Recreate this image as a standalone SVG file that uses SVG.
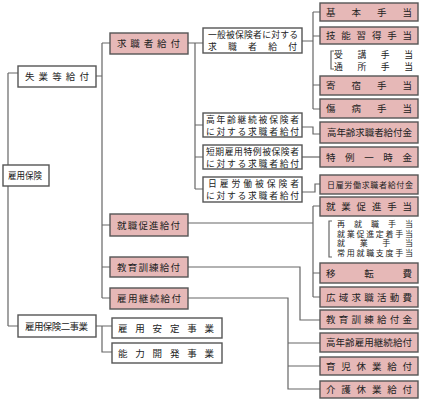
<svg xmlns="http://www.w3.org/2000/svg" width="421" height="405" viewBox="0 0 421 405">
<style>
.b{fill:#fff;stroke:#555;stroke-width:1.4}
.p{fill:#e6b8b7;stroke:#555;stroke-width:1.4}
.t{font-family:"Noto Sans CJK JP","Noto Sans CJK SC",sans-serif;font-size:9.5px;fill:#222}
.s{font-size:8px}
.m{font-size:8.8px}
.c{fill:none;stroke:#666;stroke-width:1.2}
</style>
<rect width="421" height="405" fill="#fff"/>
<g id="connectors" class="c">
<path d="M8,73 V326 M8,73 H18 M8,326 H18"/>
<path d="M96,76 H102 M102,43 V298 M102,43 H110 M102,225 H110 M102,267 H110 M102,298 H110"/>
<path d="M96,326 H112 M102,326 V352 H112"/>
<path d="M188,43 H203 M195,43 V189 M195,125 H203 M195,157 H203 M195,189 H203"/>
<path d="M302,41 H313 M313,12 V109 M313,12 H320 M313,36 H320 M313,85 H320 M313,109 H320"/>
<path d="M302,127 H313 V134 H320"/>
<path d="M302,157 H320"/>
<path d="M302,192 H315 V184 H320"/>
<path d="M188,223 H313 M313,206 V297 M313,206 H320 M313,273 H320 M313,297 H320"/>
<path d="M188,267 H300 V320 H320"/>
<path d="M188,298 H288 V389 H320 M288,343 H320 M288,366 H320"/>
<path d="M334,51 H331 V69 H334"/>
<path d="M332,221 H329 V257 H332"/>
</g>
<g id="koyohoken"><rect class="b" x="3" y="165" width="46" height="21"/><text class="t" x="8" y="179" textLength="34" lengthAdjust="spacingAndGlyphs">雇用保険</text></g>
<g id="shitsugyo"><rect class="b" x="18" y="66" width="78" height="21"/><text class="t" x="25" y="80" textLength="64" lengthAdjust="spacing">失業等給付</text></g>
<g id="nijigyo"><rect class="b" x="18" y="315" width="78" height="22"/><text class="t" x="25" y="329.5" textLength="63" lengthAdjust="spacing">雇用保険二事業</text></g>
<g id="kyushokusha"><rect class="p" x="110" y="33" width="78" height="21"/><text class="t" x="117" y="47" textLength="63" lengthAdjust="spacing">求職者給付</text></g>
<g id="shushoku"><rect class="p" x="110" y="214" width="78" height="22"/><text class="t" x="117" y="228.5" textLength="63" lengthAdjust="spacing">就職促進給付</text></g>
<g id="kyoiku"><rect class="p" x="110" y="257" width="78" height="20"/><text class="t" x="117" y="270.5" textLength="63" lengthAdjust="spacing">教育訓練給付</text></g>
<g id="keizoku"><rect class="p" x="110" y="288" width="78" height="21"/><text class="t" x="117" y="302" textLength="64" lengthAdjust="spacing">雇用継続給付</text></g>
<g id="antei"><rect class="b" x="112" y="318" width="110" height="20"/><text class="t" x="118" y="331.5" textLength="96" lengthAdjust="spacing">雇用安定事業</text></g>
<g id="noryoku"><rect class="b" x="112" y="343" width="110" height="20"/><text class="t" x="118" y="356.5" textLength="96" lengthAdjust="spacing">能力開発事業</text></g>
<g id="ippan"><rect class="b" x="203" y="28" width="99" height="25"/><text class="t m" x="208" y="38.2" textLength="90" lengthAdjust="spacing">一般被保険者に対する</text><text class="t m" x="208" y="50" textLength="89" lengthAdjust="spacing">求職者給付</text></g>
<g id="koreikeizoku"><rect class="b" x="203" y="113" width="99" height="24"/><text class="t m" x="206" y="122.8" textLength="93" lengthAdjust="spacing">高年齢継続被保険者</text><text class="t m" x="206" y="134.5" textLength="93" lengthAdjust="spacing">に対する求職者給付</text></g>
<g id="tanki"><rect class="b" x="203" y="145" width="99" height="24"/><text class="t m" x="206" y="154.8" textLength="93" lengthAdjust="spacing">短期雇用特例被保険者</text><text class="t m" x="206" y="166.5" textLength="93" lengthAdjust="spacing">に対する求職者給付</text></g>
<g id="hiyatoi"><rect class="b" x="203" y="177" width="99" height="25"/><text class="t m" x="208" y="187.3" textLength="91" lengthAdjust="spacing">日雇労働被保険者</text><text class="t m" x="206" y="199" textLength="93" lengthAdjust="spacing">に対する求職者給付</text></g>
<g id="kihon"><rect class="p" x="320" y="3" width="98" height="18"/><text class="t" x="326" y="15.5" textLength="86" lengthAdjust="spacing">基本手当</text></g>
<g id="gino"><rect class="p" x="320" y="27" width="98" height="17"/><text class="t" x="326" y="39" textLength="86" lengthAdjust="spacing">技能習得手当</text></g>
<g id="juko"><text class="t m" x="334" y="57.5" textLength="79" lengthAdjust="spacing">受講手当</text><text class="t m" x="334" y="69.5" textLength="79" lengthAdjust="spacing">通所手当</text></g>
<g id="kishuku"><rect class="p" x="320" y="76" width="98" height="19"/><text class="t" x="326" y="89" textLength="86" lengthAdjust="spacing">寄宿手当</text></g>
<g id="shobyo"><rect class="p" x="320" y="99" width="98" height="19"/><text class="t" x="326" y="112" textLength="86" lengthAdjust="spacing">傷病手当</text></g>
<g id="koreikyushoku"><rect class="p" x="320" y="122" width="98" height="21"/><text class="t" x="327" y="136" textLength="85" lengthAdjust="spacing">高年齢求職者給付金</text></g>
<g id="tokurei"><rect class="p" x="320" y="147" width="98" height="20"/><text class="t" x="326" y="160.5" textLength="86" lengthAdjust="spacing">特例一時金</text></g>
<g id="hiyatoikyufu"><rect class="p" x="320" y="175" width="98" height="19"/><text class="t s" x="327" y="187.5" textLength="86" lengthAdjust="spacing">日雇労働求職者給付金</text></g>
<g id="shugyosokushin"><rect class="p" x="320" y="197" width="98" height="19"/><text class="t" x="326" y="210" textLength="86" lengthAdjust="spacing">就業促進手当</text></g>
<g id="saishushoku"><text class="t s" x="337" y="227" textLength="76" lengthAdjust="spacing">再就職手当</text><text class="t s" x="337" y="236.5" textLength="76" lengthAdjust="spacing">就業促進定着手当</text><text class="t s" x="337" y="246" textLength="76" lengthAdjust="spacing">就業手当</text><text class="t s" x="337" y="255.5" textLength="76" lengthAdjust="spacing">常用就職支度手当</text></g>
<g id="iten"><rect class="p" x="320" y="263" width="98" height="20"/><text class="t" x="326" y="276.5" textLength="86" lengthAdjust="spacing">移転費</text></g>
<g id="koiki"><rect class="p" x="320" y="287" width="98" height="20"/><text class="t" x="326" y="300.5" textLength="86" lengthAdjust="spacing">広域求職活動費</text></g>
<g id="kyoikukin"><rect class="p" x="320" y="310" width="98" height="19"/><text class="t" x="326" y="323" textLength="86" lengthAdjust="spacing">教育訓練給付金</text></g>
<g id="koreikoyo"><rect class="p" x="320" y="333" width="98" height="19"/><text class="t" x="326" y="346" textLength="86" lengthAdjust="spacing">高年齢雇用継続給付</text></g>
<g id="ikuji"><rect class="p" x="320" y="357" width="98" height="18"/><text class="t" x="326" y="369.5" textLength="86" lengthAdjust="spacing">育児休業給付</text></g>
<g id="kaigo"><rect class="p" x="320" y="381" width="98" height="17"/><text class="t" x="326" y="393" textLength="86" lengthAdjust="spacing">介護休業給付</text></g>
</svg>
